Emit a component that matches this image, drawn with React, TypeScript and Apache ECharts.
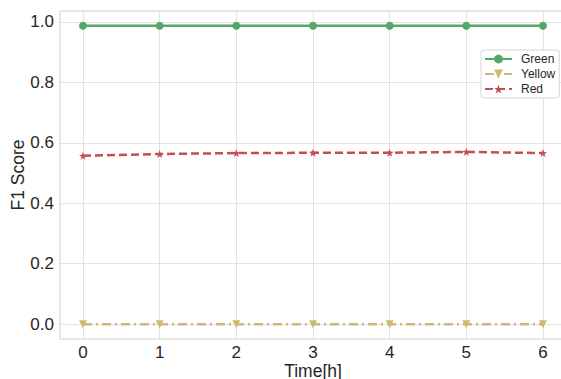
import React, { useEffect, useRef } from "react";
import * as echarts from "echarts";

const hours = [0, 1, 2, 3, 4, 5, 6];
const greenValues = [0.987, 0.987, 0.987, 0.987, 0.987, 0.987, 0.987];
const yellowValues = [0.0, 0.0, 0.0, 0.0, 0.0, 0.0, 0.0];
const redValues = [0.557, 0.563, 0.566, 0.567, 0.567, 0.57, 0.566];

const FONT = "Liberation Sans, Arial, sans-serif";

export default function App() {
  const ref = useRef<HTMLDivElement>(null);
  useEffect(() => {
    if (!ref.current) return;
    const chart = echarts.init(ref.current, undefined, { renderer: "svg" });
    const pair = (vals: number[]) => hours.map((h, i) => [h, vals[i]]);
    chart.setOption({
      animation: false,
      backgroundColor: "#ffffff",
      textStyle: { fontFamily: FONT },
      grid: {
        left: 60,
        top: 11,
        width: 506,
        height: 328,
        show: true,
        borderColor: "#d6d6d6",
        borderWidth: 1,
        containLabel: false,
        outerBoundsMode: "none",
      },
      xAxis: {
        type: "value",
        min: -0.3,
        max: 6.3,
        splitNumber: 6,
        name: "Time[h]",
        nameLocation: "middle",
        nameGap: 23,
        nameMoveOverlap: false,
        nameTextStyle: { fontSize: 17.5, lineHeight: 17, color: "#262626", fontFamily: FONT, verticalAlign: "top" },
        axisLine: { show: false },
        axisTick: { show: false },
        axisLabel: {
          fontSize: 17,
          lineHeight: 16,
          color: "#262626",
          margin: 5,
          showMinLabel: false,
          showMaxLabel: false,
          formatter: (v: number) => (Math.abs(v - Math.round(v)) < 1e-6 ? String(Math.round(v)) : ""),
        },
        splitLine: { show: true, lineStyle: { color: "#e3e3e3", width: 1 } },
      },
      yAxis: {
        type: "value",
        min: -0.049,
        max: 1.036,
        splitNumber: 5,
        name: "F1 Score",
        nameLocation: "middle",
        nameGap: 33,
        nameMoveOverlap: false,
        nameTextStyle: { fontSize: 17.5, color: "#262626", fontFamily: FONT },
        axisLine: { show: false },
        axisTick: { show: false },
        axisLabel: {
          fontSize: 17,
          color: "#262626",
          margin: 6,
          showMinLabel: false,
          showMaxLabel: false,
          formatter: (v: number) => (Math.abs(v * 5 - Math.round(v * 5)) < 1e-6 ? v.toFixed(1) : ""),
        },
        splitLine: { show: true, lineStyle: { color: "#e3e3e3", width: 1 } },
      },
      legend: {
        show: true,
        left: 481,
        top: 50,
        orient: "vertical",
        itemWidth: 27,
        itemHeight: 11,
        itemGap: 3,
        padding: [3, 4, 3, 3],
        borderColor: "#d6d6d6",
        borderWidth: 1,
        borderRadius: 3,
        backgroundColor: "#ffffff",
        textStyle: { fontSize: 12, color: "#262626", fontFamily: FONT, padding: [0, 0, 0, 4] },
        data: ["Green", "Yellow", "Red"],
      },
      series: [
        {
          name: "Green",
          type: "line",
          data: pair(greenValues),
          symbol: "circle",
          symbolSize: 8,
          lineStyle: { color: "#55a868", width: 2.5, type: "solid" },
          itemStyle: { color: "#55a868" },
        },
        {
          name: "Yellow",
          type: "line",
          data: pair(yellowValues),
          symbol: "triangle",
          symbolRotate: 180,
          symbolSize: 8,
          lineStyle: { color: "#ccb974", width: 2.5, type: [9, 4, 2, 4] },
          itemStyle: { color: "#ccb974" },
        },
        {
          name: "Red",
          type: "line",
          data: pair(redValues),
          symbol: "path://M0,-10 L2.35,-3.24 L9.51,-3.09 L3.8,1.24 L5.88,8.09 L0,4 L-5.88,8.09 L-3.8,1.24 L-9.51,-3.09 L-2.35,-3.24 Z",
          symbolSize: 8,
          lineStyle: { color: "#c44e52", width: 2.5, type: [8, 4] },
          itemStyle: { color: "#c44e52" },
        },
      ],
    });
    return () => chart.dispose();
  }, []);
  return <div ref={ref} style={{ width: 561, height: 379, position: "absolute", left: 0, top: 0 }} />;
}
